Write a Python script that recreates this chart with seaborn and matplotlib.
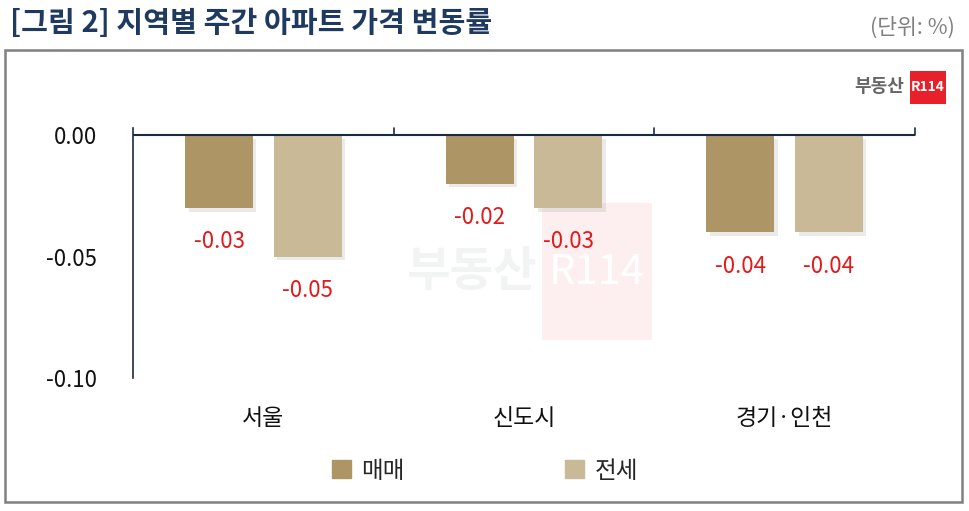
import pandas as pd
import seaborn as sns
import matplotlib.pyplot as plt
import matplotlib.patheffects as pe
from matplotlib.patches import Rectangle

# chart data
regions = ['서울', '신도시', '경기·인천']
sale = [-0.03, -0.02, -0.04]      # 매매
jeonse = [-0.05, -0.03, -0.04]    # 전세
series_names = ['매매', '전세']
colors = ['#AD9566', '#C9B997']

df = pd.DataFrame({
    'region': regions * 2,
    'kind': [series_names[0]] * 3 + [series_names[1]] * 3,
    'value': sale + jeonse,
})

sns.set_style('white')
plt.rcParams['font.family'] = ['Noto Sans CJK KR', 'DejaVu Sans']

fig = plt.figure(figsize=(9.69, 5.11), dpi=100)
ax = fig.add_axes([133 / 969, 1 - 378 / 511, (915 - 133) / 969, (378 - 128) / 511])

sns.barplot(data=df, x='region', y='value', hue='kind', palette=colors, saturation=1,
            width=0.68, gap=0.235, ax=ax, legend=False, zorder=3)

# soft drop shadow on the bars
for p in ax.patches:
    p.set_path_effects([pe.SimplePatchShadow(offset=(2.5, -2.5), shadow_rgbFace='#a0a0a0', alpha=0.22),
                        pe.Normal()])
    p.set_linewidth(0)

for cont in ax.containers:
    ax.bar_label(cont, fmt='%.2f', padding=16, color='#E31A1C', fontsize=16)

ax.set_ylim(-0.10, 0.003)
ax.set_xlim(-0.5, 2.5)
ax.set_yticks([0.0, -0.05, -0.10])
ax.set_yticklabels(['0.00', '-0.05', '-0.10'], fontsize=16, color='#111111')
ax.set_xticks([])
ax.set_xlabel('')
ax.set_ylabel('')
for s in ['top', 'right', 'bottom']:
    ax.spines[s].set_visible(False)
ax.spines['left'].set_color('#1a2a44')
ax.spines['left'].set_linewidth(1.2)
ax.tick_params(axis='y', direction='in', length=7, width=1.2, color='#1a2a44', pad=26)

# zero line with upward category dividers
ax.axhline(0, color='#1a2a44', lw=1.5, zorder=4)
for xb in [0.5, 1.5, 2.5]:
    ax.plot([xb, xb], [0, 0.003], color='#1a2a44', lw=1.2, clip_on=False, zorder=4)

# category labels
for i, r in enumerate(regions):
    ax.text(i, -0.1165, r, ha='center', va='center', fontsize=16.5, color='#111111')

# watermark
ax.text(1.05, -0.0565, '부동산', ha='right', va='center', fontsize=34, fontweight='bold',
        color='#f2f4f3', zorder=1)
ax.add_patch(Rectangle((1.07, -0.0845), 0.42, 0.0565, color='#fdeff0', zorder=1, lw=0))
ax.text(1.28, -0.0565, 'R114', ha='center', va='center', fontsize=30, color='white', zorder=1)

# title and unit
fig.text(10 / 969, 1 - 23 / 511, '[그림 2] 지역별 주간 아파트 가격 변동률', fontsize=21,
         fontweight='bold', color='#1F3A60', va='center', ha='left')
fig.text(955 / 969, 1 - 28 / 511, '(단위: %)', fontsize=15.5, color='#808080', va='center', ha='right')

# outer frame
fig.patches.append(Rectangle((5 / 969, 1 - 502 / 511), 957 / 969, 452 / 511, transform=fig.transFigure,
                             fill=False, edgecolor='#808080', lw=1.8))

# logo top right
fig.text(904 / 969, 1 - 86 / 511, '부동산', fontsize=13, fontweight='bold', color='#666666',
         va='center', ha='right')
fig.patches.append(Rectangle((910 / 969, 1 - 104 / 511), 36 / 969, 33 / 511, transform=fig.transFigure,
                             color='#E8202A', lw=0))
fig.text(928 / 969, 1 - 87 / 511, 'R114', fontsize=10, fontweight='bold', color='white',
         va='center', ha='center')

# legend
handles = [Rectangle((0, 0), 1, 1, color=c) for c in colors]
fig.legend(handles, series_names, loc='center', bbox_to_anchor=(485 / 969, 1 - 471 / 511), ncol=2,
           frameon=False, fontsize=17, handlelength=0.8, handleheight=0.8, handletextpad=0.45,
           columnspacing=6.8)

fig.savefig('out.png', dpi=100)
